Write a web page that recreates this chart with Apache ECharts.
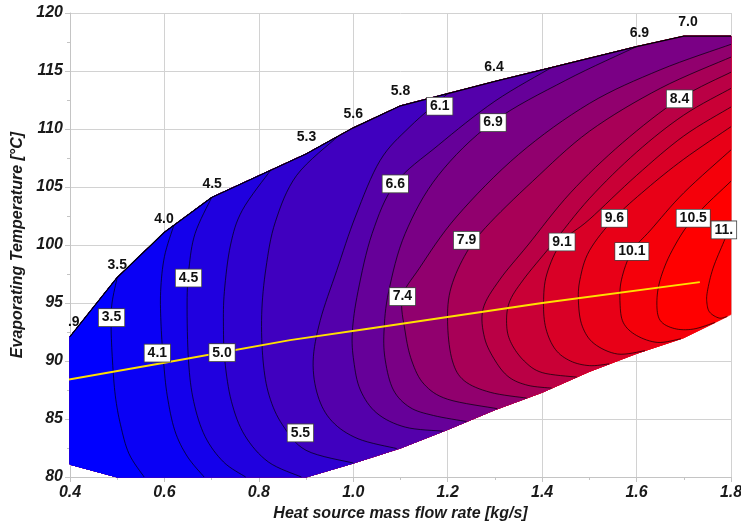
<!DOCTYPE html>
<html><head><meta charset="utf-8">
<script src="https://cdn.jsdelivr.net/npm/echarts@6/dist/echarts.min.js"></script>
<style>html,body{margin:0;padding:0;background:#fff}#c{width:741px;height:522px}</style>
</head><body><div id="c"></div>
<script>
// ---------- data ----------
const xRange = [0.4, 1.8];
const yRange = [80, 120];
// boundary of the feasible region
const boundaryTop = [[0.4,92.1],[0.5,97.2],[0.6,101.1],[0.7,104.1],[0.9,107.85],[1.0,110.1],[1.1,112.0],[1.3,114.1],[1.4,115.1],[1.6,117.1],[1.7,118.0],[1.8,118.0]];
const boundaryBottom = [[1.8,94.0],[1.7,92.0],[1.6,90.65],[1.5,89.1],[1.4,87.3],[1.3,85.8],[1.2,84.1],[1.1,82.5],[1.0,81.2],[0.9,80.0],[0.5,80.0],[0.4,81.1]];
// contour lines (levels ~3.5 ... 11), each from its top end to its bottom end
const contour01 = [[0.5,97.2],[0.489,95],[0.487,93],[0.49,90],[0.496,87],[0.507,84.5],[0.525,82],[0.557,80]];
const contour02 = [[0.62,101.7],[0.6,99],[0.592,96],[0.593,93],[0.598,90],[0.606,87],[0.622,84],[0.648,81.8],[0.684,80]];
const contour03 = [[0.7,104.1],[0.665,101],[0.652,98],[0.648,95],[0.651,90],[0.662,86.5],[0.686,83.5],[0.725,81.3],[0.772,80]];
const contour04 = [[0.825,106.45],[0.765,103],[0.74,100],[0.727,96],[0.725,93],[0.728,90],[0.742,86.5],[0.77,83.6],[0.82,81.3],[0.89,80]];
const contour05 = [[0.967,109.35],[0.88,106],[0.835,102],[0.815,98],[0.806,94],[0.809,90],[0.822,87],[0.85,84.5],[0.9,82.3],[1.0,81.2]];
const contour06 = [[1.2,113.05],[1.12,110.2],[1.057,107.3],[1.005,102.5],[0.965,97.8],[0.93,93.5],[0.915,90],[0.925,87],[0.955,84.8],[1.01,83.3],[1.092,82.45]];
const contour07 = [[1.42,115.3],[1.3,112.4],[1.18,108.6],[1.089,105.3],[1.04,101],[1.01,96],[0.998,92.5],[1.001,90],[1.015,87.5],[1.05,85.5],[1.11,84.3],[1.19,83.95]];
const contour08 = [[1.6,117.1],[1.45,114.2],[1.296,110.6],[1.18,106],[1.11,101],[1.075,96],[1.065,92.5],[1.068,90],[1.085,87.5],[1.12,86],[1.17,85.3],[1.24,84.78]];
const contour09 = [[1.8,117.3],[1.65,115.1],[1.5,112.2],[1.35,107.8],[1.22,102.5],[1.14,98],[1.104,95.5],[1.11,92.5],[1.124,90],[1.15,88],[1.2,86.7],[1.305,85.89]];
const contour10 = [[1.8,116.2],[1.65,113.5],[1.5,109.8],[1.38,105.5],[1.28,101.5],[1.235,99],[1.205,96],[1.2,93],[1.21,90],[1.235,88.3],[1.29,87.3],[1.367,86.8]];
const contour11 = [[1.8,114.9],[1.691,112.6],[1.57,108.8],[1.46,104.5],[1.37,100],[1.31,97],[1.275,94.5],[1.278,92],[1.301,90],[1.33,88.6],[1.37,87.9],[1.42,87.66]];
const contour12 = [[1.8,113.5],[1.7,111.2],[1.6,108],[1.5,104],[1.42,100],[1.36,97],[1.33,95],[1.325,93],[1.335,91.5],[1.362,90],[1.4,89],[1.473,88.61]];
const contour13 = [[1.8,111.9],[1.7,109.4],[1.6,106],[1.5,102.2],[1.442,100.26],[1.41,97.5],[1.403,95],[1.408,92.8],[1.428,91],[1.46,90],[1.5,89.6],[1.542,89.75]];
const contour14 = [[1.8,110.2],[1.7,107.4],[1.62,104.8],[1.553,102.3],[1.5,99.5],[1.48,97],[1.477,95],[1.485,93],[1.51,91.5],[1.56,90.6],[1.618,90.89]];
const contour15 = [[1.8,108.2],[1.7,104.5],[1.63,101.3],[1.59,99.44],[1.568,97],[1.565,95],[1.572,93.3],[1.6,92.2],[1.645,91.6],[1.694,91.92]];
const contour16 = [[1.8,105.5],[1.72,102.3],[1.675,99.5],[1.65,97],[1.643,95],[1.65,93.5],[1.68,92.8],[1.72,92.75],[1.766,93.32]];
const contour17 = [[1.8,101.8],[1.785,100.3],[1.762,98],[1.75,96],[1.749,95],[1.755,94.2],[1.775,93.7],[1.792,93.84]];
// boxed contour labels
const boxLabelText = ['3.5','4.1','4.5','5.0','5.5','6.6','6.1','6.9','7.4','7.9','8.4','9.1','9.6','10.1','10.5','11.'];
const boxLabelX = [0.488,0.585,0.651,0.722,0.888,1.089,1.183,1.296,1.104,1.24,1.691,1.442,1.553,1.59,1.72,1.785];
const boxLabelY = [93.74,90.68,97.15,90.72,83.8,105.27,111.96,110.55,95.55,100.4,112.6,100.26,102.3,99.44,102.3,101.3];
// labels along the upper boundary
const edgeLabelText = ['.9','3.5','4.0','4.5','5.3','5.6','5.8','6.4','6.9','7.0','7.'];
const edgeLabelX = [0.408,0.5,0.599,0.701,0.901,1.0,1.1,1.298,1.606,1.709,1.802];
const edgeLabelY = [93.35,98.27,102.24,105.27,109.28,111.3,113.3,115.32,118.3,119.25,119.25];
// yellow operating line
const lineX = [0.39,0.6,0.866,1.035,1.4,1.734];
const lineY = [88.35,89.85,91.8,92.8,95.0,96.8];
// red share of each colour band (band 0 = left of first contour)
const bandRedShare = [0,0.04,0.08,0.125,0.18,0.25,0.33,0.4,0.48,0.57,0.66,0.73,0.79,0.85,0.91,0.96,1,1];

// ---------- geometry helpers ----------
const contours = [contour01,contour02,contour03,contour04,contour05,contour06,contour07,contour08,contour09,contour10,contour11,contour12,contour13,contour14,contour15,contour16,contour17];
const nC = contours.length;
const loop = boundaryTop.concat(boundaryBottom);
const SX = 472.1, SY = 11.585;
function loopParam(p){
  let best = 1e9, par = 0;
  for (let i = 0; i < loop.length; i++){
    const a = loop[i], b = loop[(i+1)%loop.length];
    const ax=a[0]*SX, ay=a[1]*SY, bx=b[0]*SX, by=b[1]*SY, px=p[0]*SX, py=p[1]*SY;
    const dx=bx-ax, dy=by-ay, L=dx*dx+dy*dy;
    let t = L>0 ? ((px-ax)*dx+(py-ay)*dy)/L : 0; t=Math.max(0,Math.min(1,t));
    const qx=ax+t*dx, qy=ay+t*dy, d=(qx-px)*(qx-px)+(qy-py)*(qy-py);
    if (d < best){ best=d; par=i+t; }
  }
  return par;
}
const regions = contours.map(c => {
  const pt = loopParam(c[0]), pb = loopParam(c[c.length-1]);
  const tail = [];
  for (let i = Math.floor(pb+1e-6)+1; i < loop.length; i++) tail.push(loop[i]);
  for (let i = 0; i <= Math.floor(pt-1e-6); i++) tail.push(loop[i]);
  return {curve: c, tail: tail};
});
function smoothPts(p, n){
  if (p.length < 3) return p;
  const out = [];
  for (let i = 0; i < p.length-1; i++){
    const p0=p[Math.max(i-1,0)], p1=p[i], p2=p[i+1], p3=p[Math.min(i+2,p.length-1)];
    for (let s = 0; s < n; s++){
      const t=s/n, t2=t*t, t3=t2*t;
      const f=(a,b,c,d)=>0.5*((2*b)+(-a+c)*t+(2*a-5*b+4*c-d)*t2+(-a+3*b-3*c+d)*t3);
      out.push([f(p0[0],p1[0],p2[0],p3[0]), f(p0[1],p1[1],p2[1],p3[1])]);
    }
  }
  out.push(p[p.length-1]);
  return out;
}
function bandColor(j){
  const f = bandRedShare[j];
  return 'rgb(' + Math.round(255*f) + ',0,' + Math.round(255*(1-f)) + ')';
}

// ---------- chart ----------
const chart = echarts.init(document.getElementById('c'), null, {renderer:'canvas'});
const axisFont = {fontFamily:'Liberation Sans, Arial, sans-serif', fontWeight:'bold', fontStyle:'italic', fontSize:16, color:'#1a1a1a'};
const gridCol = '#d2d2d2';
const labelFont = {fontFamily:'Liberation Sans, Arial, sans-serif', fontWeight:'bold', fontSize:14, color:'#111', opacity:1};
chart.setOption({
  animation:false,
  backgroundColor:'#ffffff',
  grid:{left:70, right:10, top:13, bottom:45, containLabel:false, outerBoundsMode:'none'},
  xAxis:{type:'value', min:xRange[0], max:xRange[1], interval:0.2,
    name:'Heat source mass flow rate [kg/s]', nameLocation:'middle', nameGap:29,
    nameTextStyle:Object.assign({}, axisFont),
    axisLine:{show:true, lineStyle:{color:'#c4c4c4'}},
    axisTick:{show:true, length:5, lineStyle:{color:'#c4c4c4'}},
    minorTick:{show:true, splitNumber:2, length:3, lineStyle:{color:'#c4c4c4'}},
    splitLine:{show:true, lineStyle:{color:gridCol}},
    axisLabel:Object.assign({}, axisFont, {margin:8, formatter:v=>v.toFixed(1)})},
  yAxis:{type:'value', min:yRange[0], max:yRange[1], interval:5,
    name:'Evaporating Temperature [°C]', nameLocation:'middle', nameGap:41,
    nameTextStyle:Object.assign({}, axisFont),
    axisLine:{show:true, lineStyle:{color:'#c4c4c4'}},
    axisTick:{show:true, length:5, lineStyle:{color:'#c4c4c4'}},
    minorTick:{show:true, splitNumber:2, length:3, lineStyle:{color:'#c4c4c4'}},
    splitLine:{show:true, lineStyle:{color:gridCol}},
    axisLabel:Object.assign({}, axisFont, {margin:7})},
  series:[
    {type:'custom', z:2, silent:true, data:contours.map((c,i)=>[i]).concat([[nC]]),
     renderItem:(params, api)=>{
       const m = params.dataIndex;
       let pts, color;
       if (m === 0){ pts = loop.map(p=>api.coord(p)); color = bandColor(nC); }
       else {
         const k = nC - m;
         const r = regions[k];
         pts = smoothPts(r.curve.map(p=>api.coord(p)), 8).concat(r.tail.map(p=>api.coord(p)));
         color = bandColor(k);
       }
       return {type:'polygon', shape:{points:pts}, style:{fill:color, stroke:color, lineWidth:0.6}};
     }},
    {type:'custom', z:3, silent:true, data:contours.map((c,i)=>[i]),
     renderItem:(params, api)=>{
       const c = contours[params.dataIndex];
       return {type:'polyline', shape:{points:smoothPts(c.map(p=>api.coord(p)), 8)},
               style:{fill:null, stroke:'rgba(0,0,0,0.85)', lineWidth:0.8}};
     }},
    {type:'line', z:4, silent:true, symbol:'none', data:boundaryTop,
     lineStyle:{color:'#000', width:1.2}},
    {type:'line', z:5, silent:true, symbol:'none', data:lineX.map((x,i)=>[x,lineY[i]]),
     lineStyle:{color:'#ffe000', width:2}},
    {type:'scatter', z:6, silent:true, symbolSize:1, itemStyle:{color:'rgba(0,0,0,0)', opacity:1},
     data:boxLabelX.map((x,i)=>[x, boxLabelY[i], boxLabelText[i]]),
     label:Object.assign({show:true, position:'inside', formatter:p=>p.value[2],
       backgroundColor:'#ffffff', borderColor:'#444', borderWidth:0.8, padding:[2,3,1,3]}, labelFont)},
    {type:'scatter', z:6, silent:true, symbolSize:1, itemStyle:{color:'rgba(0,0,0,0)', opacity:1},
     data:edgeLabelX.map((x,i)=>[x, edgeLabelY[i], edgeLabelText[i]]),
     label:Object.assign({show:true, position:'inside', formatter:p=>p.value[2]}, labelFont)}
  ]
});
</script></body></html>
